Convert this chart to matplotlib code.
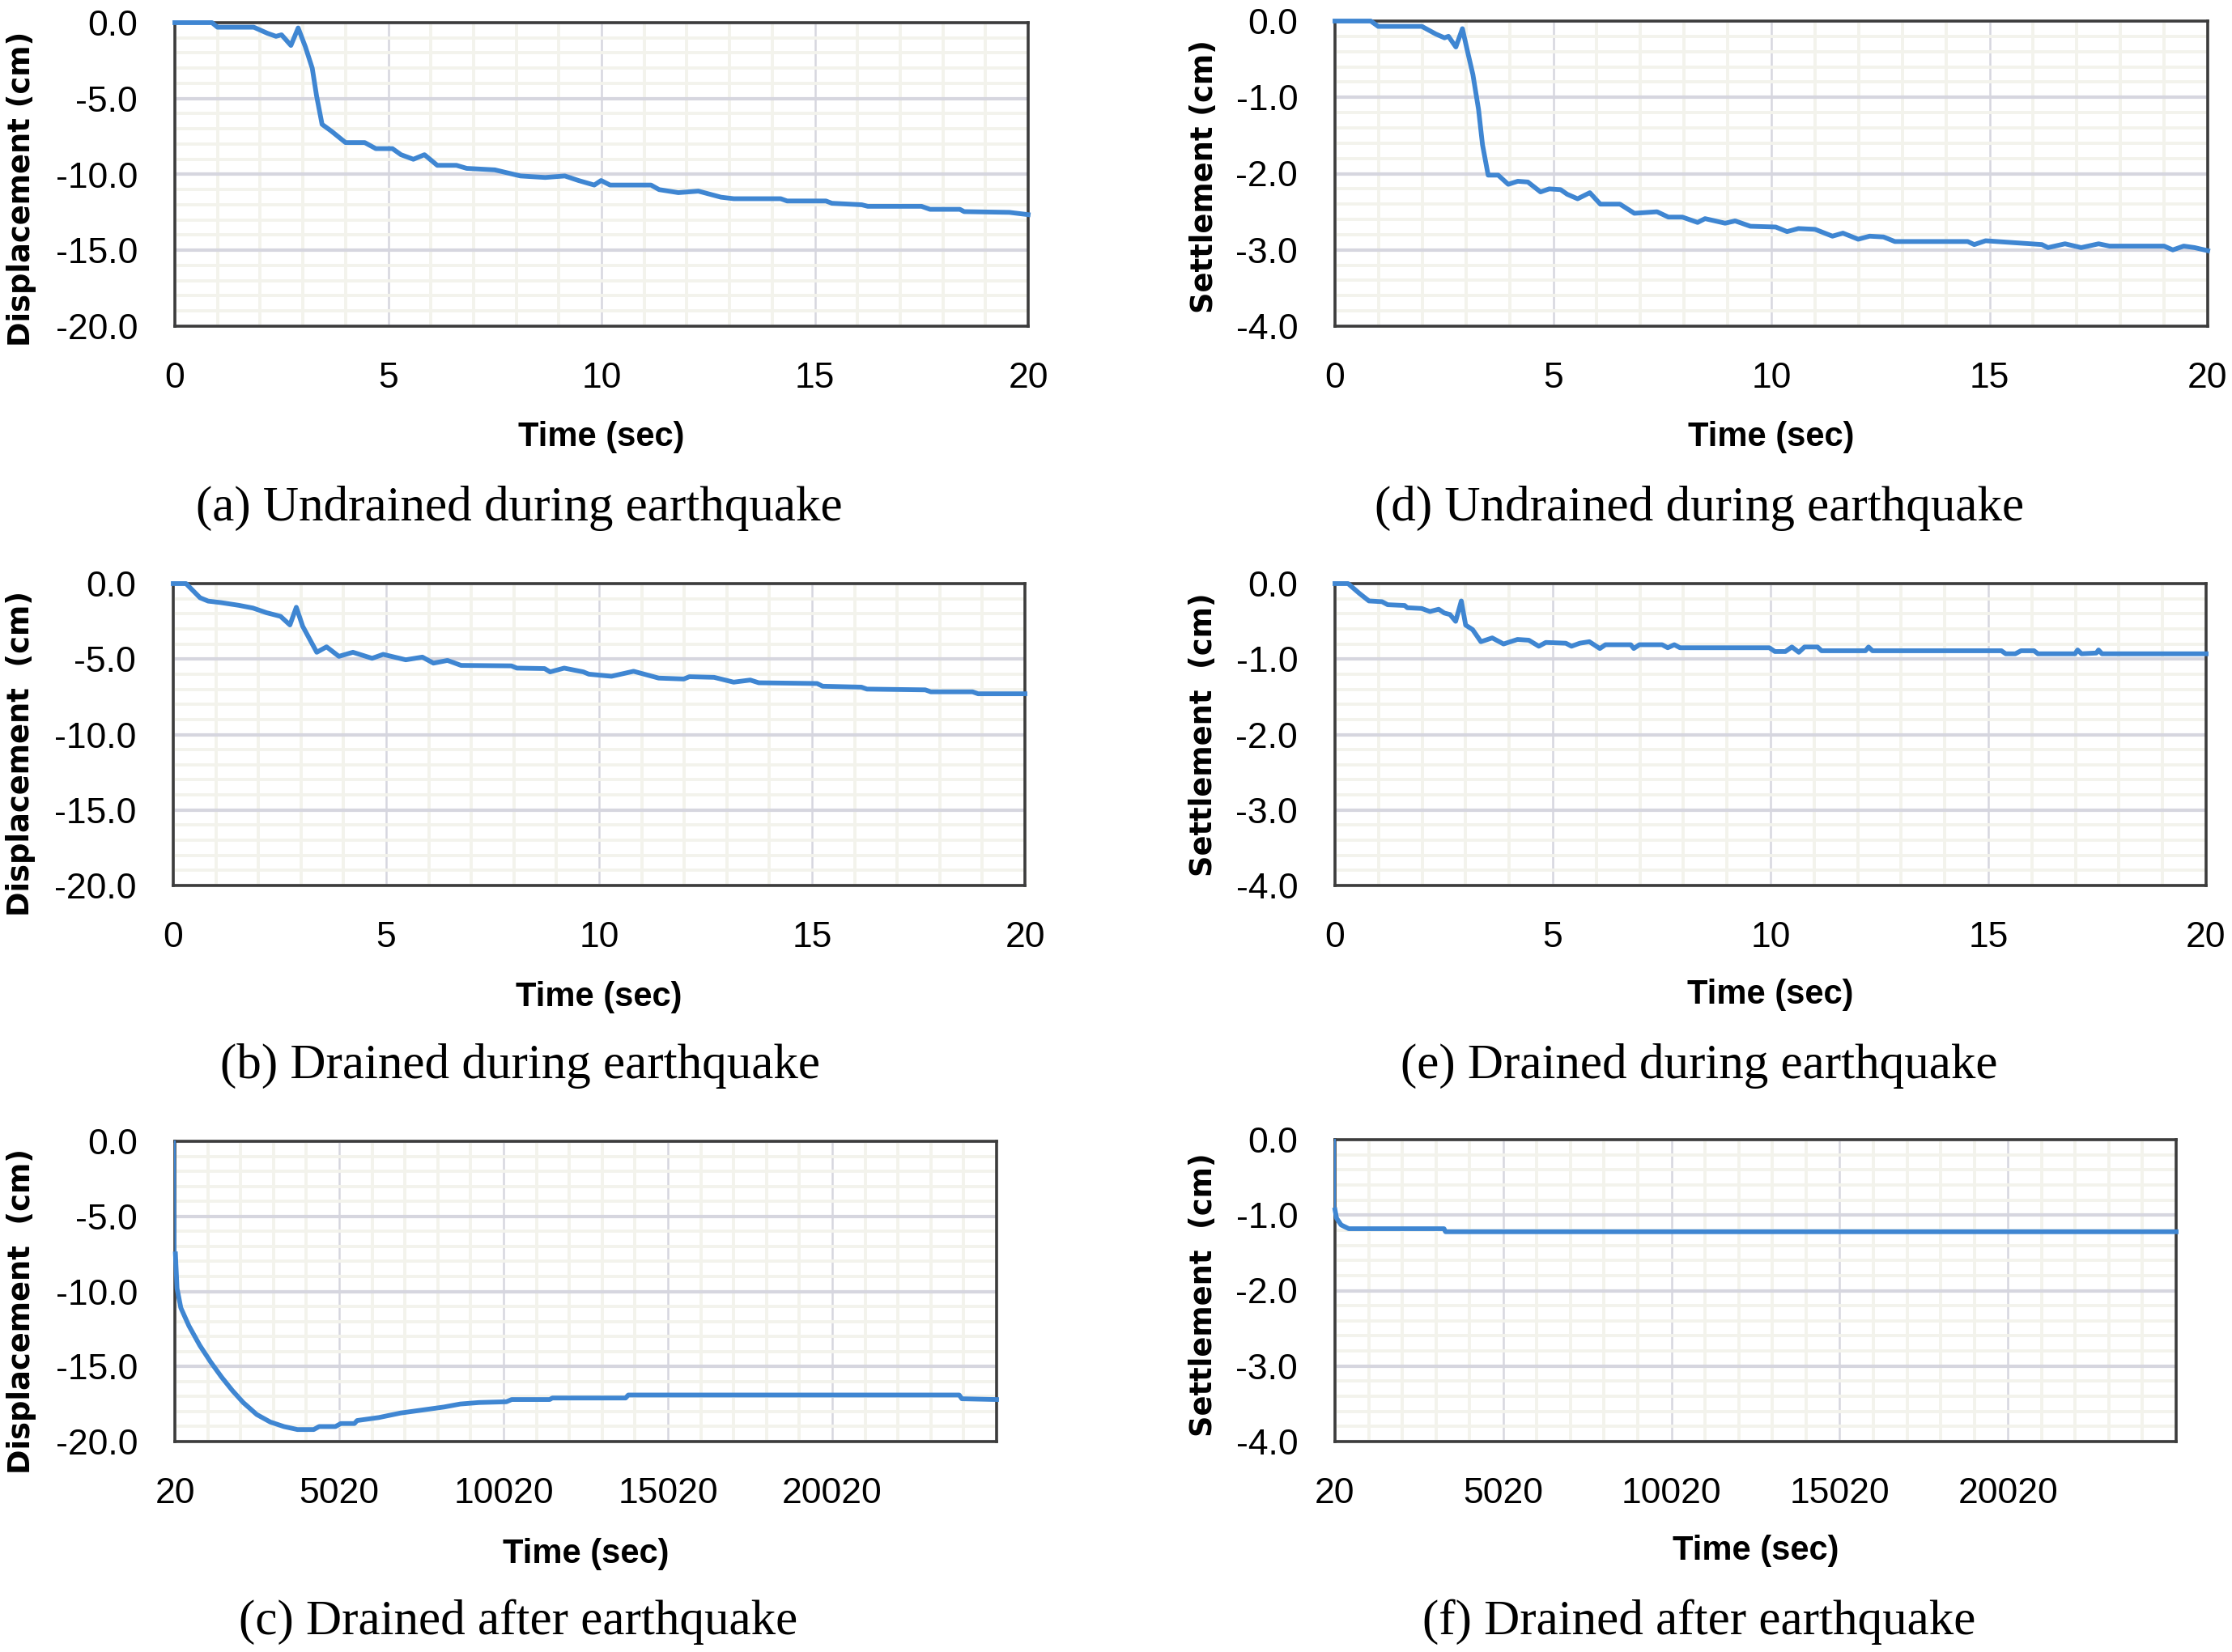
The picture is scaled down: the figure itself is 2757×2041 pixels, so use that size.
#!/usr/bin/env python3
"""Displacement / settlement time histories, six-panel figure."""

import matplotlib
matplotlib.use("Agg")
import matplotlib.pyplot as plt
import numpy as np
from matplotlib.ticker import FixedLocator, FormatStrFormatter, MultipleLocator

plt.rcParams["axes.unicode_minus"] = False

# (a) undrained during earthquake, displacement (cm)
t_a = [0, 0.87, 1.0, 1.85, 2.17, 2.37, 2.5, 2.72, 2.89, 3.06, 3.22, 3.32, 3.45, 3.67, 4.0,
       4.45, 4.71, 5.1, 5.3, 5.59, 5.85, 6.15, 6.6, 6.84, 7.5, 8.1, 8.68, 9.14, 9.46, 9.83,
       9.99, 10.2, 11.16, 11.35, 11.8, 12.27, 12.8, 13.1, 14.2, 14.35, 15.26, 15.4, 16.1,
       16.24, 17.5, 17.7, 18.4, 18.5, 19.56, 20.0]
d_a = [0, 0, -0.3, -0.3, -0.7, -0.9, -0.8, -1.5, -0.35, -1.6, -3.0, -4.8, -6.7, -7.15, -7.9,
       -7.9, -8.3, -8.3, -8.7, -9.0, -8.7, -9.4, -9.4, -9.6, -9.7, -10.1, -10.2, -10.1, -10.4,
       -10.7, -10.4, -10.7, -10.7, -11.0, -11.2, -11.1, -11.5, -11.6, -11.6, -11.75, -11.75,
       -11.9, -12.0, -12.1, -12.1, -12.3, -12.3, -12.45, -12.5, -12.65]

# (b) drained during earthquake, displacement (cm)
t_b = [0, 0.3, 0.63, 0.82, 1.12, 1.54, 1.87, 2.19, 2.52, 2.74, 2.89, 3.04, 3.37, 3.6, 3.89,
       4.22, 4.67, 4.93, 5.46, 5.85, 6.11, 6.44, 6.76, 7.94, 8.07, 8.72, 8.85, 9.18, 9.63,
       9.76, 10.29, 10.81, 11.4, 11.99, 12.12, 12.7, 13.16, 13.55, 13.75, 15.12, 15.25, 16.16,
       16.29, 17.66, 17.79, 18.77, 18.9, 20.0]
d_b = [0, 0, -0.94, -1.16, -1.26, -1.44, -1.62, -1.93, -2.17, -2.74, -1.57, -2.83, -4.55,
       -4.19, -4.82, -4.55, -4.95, -4.69, -5.05, -4.87, -5.27, -5.09, -5.42, -5.45, -5.6,
       -5.63, -5.85, -5.6, -5.85, -6.0, -6.14, -5.81, -6.26, -6.32, -6.17, -6.21, -6.53,
       -6.39, -6.57, -6.62, -6.8, -6.86, -6.99, -7.04, -7.17, -7.17, -7.3, -7.3]

# (c) drained after earthquake, displacement (cm)
t_c = [20, 37, 86, 202, 449, 779, 1109, 1439, 1769, 2099, 2512, 2924, 3337, 3750, 4245, 4410,
       4905, 5070, 5482, 5565, 6225, 6886, 7546, 8206, 8700, 9278, 10103, 10268, 11423,
       11505, 13733, 13816, 23882, 23964, 25020]
d_c = [0, -7.5, -9.8, -11.1, -12.3, -13.6, -14.7, -15.7, -16.6, -17.4, -18.2, -18.7, -19.0,
       -19.2, -19.2, -19.0, -19.0, -18.8, -18.8, -18.6, -18.4, -18.1, -17.9, -17.7, -17.5,
       -17.4, -17.35, -17.2, -17.2, -17.1, -17.1, -16.9, -16.9, -17.15, -17.2]

# (d) undrained during earthquake, settlement (cm)
t_d = [0, 0.82, 0.99, 1.99, 2.31, 2.51, 2.6, 2.77, 2.92, 3.03, 3.16, 3.29, 3.38, 3.51, 3.74,
       3.97, 4.19, 4.42, 4.71, 4.91, 5.17, 5.32, 5.56, 5.84, 6.08, 6.53, 6.86, 7.38, 7.64,
       7.96, 8.31, 8.48, 8.94, 9.17, 9.52, 10.1, 10.36, 10.62, 11.0, 11.4, 11.64, 11.99,
       12.25, 12.57, 12.83, 14.5, 14.65, 14.91, 16.2, 16.34, 16.73, 17.1, 17.5, 17.75, 19.0,
       19.2, 19.45, 19.7, 20.0]
d_d = [0, 0, -0.07, -0.07, -0.17, -0.22, -0.2, -0.34, -0.1, -0.38, -0.7, -1.16, -1.62,
       -2.02, -2.02, -2.14, -2.1, -2.11, -2.24, -2.2, -2.21, -2.27, -2.33, -2.25, -2.4, -2.4,
       -2.52, -2.5, -2.57, -2.57, -2.64, -2.59, -2.65, -2.62, -2.69, -2.7, -2.76, -2.72,
       -2.73, -2.82, -2.78, -2.86, -2.82, -2.83, -2.89, -2.89, -2.93, -2.88, -2.93, -2.97,
       -2.92, -2.97, -2.92, -2.95, -2.95, -3.0, -2.95, -2.97, -3.01]

# (e) drained during earthquake, settlement (cm)
t_e = [0, 0.3, 0.56, 0.78, 1.08, 1.21, 1.6, 1.66, 1.99, 2.18, 2.38, 2.51, 2.64, 2.77, 2.9,
       3.0, 3.16, 3.35, 3.61, 3.87, 4.19, 4.45, 4.68, 4.84, 5.3, 5.43, 5.62, 5.84, 6.08, 6.21,
       6.79, 6.86, 6.99, 7.51, 7.64, 7.79, 7.92, 9.97, 10.1, 10.34, 10.49, 10.65, 10.78,
       11.08, 11.17, 12.18, 12.25, 12.34, 15.3, 15.4, 15.62, 15.75, 16.05, 16.14, 16.99,
       17.05, 17.14, 17.48, 17.53, 17.61, 20.0]
d_e = [0, 0, -0.13, -0.23, -0.24, -0.28, -0.29, -0.32, -0.33, -0.37, -0.34, -0.39, -0.41,
       -0.5, -0.23, -0.55, -0.61, -0.77, -0.72, -0.8, -0.74, -0.75, -0.83, -0.78, -0.79,
       -0.83, -0.79, -0.77, -0.86, -0.81, -0.81, -0.86, -0.81, -0.81, -0.85, -0.81, -0.85,
       -0.85, -0.9, -0.9, -0.84, -0.91, -0.84, -0.84, -0.89, -0.89, -0.84, -0.89, -0.89,
       -0.93, -0.93, -0.89, -0.89, -0.93, -0.93, -0.88, -0.93, -0.92, -0.88, -0.93, -0.93]

# (f) drained after earthquake, settlement (cm)
t_f = [20, 21, 66, 202, 430, 3260, 3305, 25020]
d_f = [0, -0.93, -1.04, -1.13, -1.18, -1.18, -1.22, -1.22]

captions = ["(a) Undrained during earthquake", "(b) Drained during earthquake",
            "(c) Drained after earthquake", "(d) Undrained during earthquake",
            "(e) Drained during earthquake", "(f) Drained after earthquake"]
ylabels = ["Displacement (cm)", "Displacement  (cm)", "Displacement  (cm)",
           "Settlement (cm)", "Settlement  (cm)", "Settlement  (cm)"]
long_ticks = [20, 5020, 10020, 15020, 20020]

W, H = 2757, 2041
LINE = "#3f86d2"
MAJOR = "#d6d6df"
MINOR = "#f3f3ec"
SPINE = "#3c3c3c"


def px_rect(left, right, top, bottom):
    return [left / W, 1 - bottom / H, (right - left) / W, (bottom - top) / H]


panels = [
    dict(t=t_a, d=d_a, rect=px_rect(216, 1270, 28, 403), kind="disp", long=False,
         ylab=(-0.180, 0.451), xlab=-0.365, cap=(641, 628)),
    dict(t=t_b, d=d_b, rect=px_rect(214, 1266, 721, 1094), kind="disp", long=False,
         ylab=(-0.179, 0.437), xlab=-0.370, cap=(643, 1317)),
    dict(t=t_c, d=d_c, rect=px_rect(216, 1231, 1410, 1781), kind="disp", long=True,
         ylab=(-0.187, 0.434), xlab=-0.375, cap=(640, 2004)),
    dict(t=t_d, d=d_d, rect=px_rect(1649, 2727, 26, 403), kind="set", long=False,
         ylab=(-0.150, 0.491), xlab=-0.363, cap=(2099, 628)),
    dict(t=t_e, d=d_e, rect=px_rect(1649, 2725, 721, 1094), kind="set", long=False,
         ylab=(-0.151, 0.499), xlab=-0.362, cap=(2099, 1317)),
    dict(t=t_f, d=d_f, rect=px_rect(1649, 2688, 1408, 1781), kind="set", long=True,
         ylab=(-0.156, 0.485), xlab=-0.362, cap=(2099, 2004)),
]

fig = plt.figure(figsize=(W / 100, H / 100), dpi=100)

for p, cap, ylab in zip(panels, captions, ylabels):
    ax = fig.add_axes(p["rect"])
    ax.set_axisbelow(True)

    if p["long"]:
        ax.set_xlim(20, 25020)
        ax.xaxis.set_major_locator(FixedLocator(long_ticks))
        ax.xaxis.set_minor_locator(FixedLocator([v for v in range(1020, 25020, 1000)
                                                 if (v - 20) % 5000]))
        # first near-vertical drop is drawn thin, like the source chart
        ax.plot(p["t"][:2], p["d"][:2], color=LINE, lw=1.6, zorder=3, clip_on=False)
        ax.plot(p["t"][1:], p["d"][1:], color=LINE, lw=4.2, zorder=3, clip_on=False)
    else:
        ax.set_xlim(0, 20)
        ax.xaxis.set_major_locator(MultipleLocator(5))
        ax.xaxis.set_minor_locator(MultipleLocator(1))
        ax.plot(p["t"], p["d"], color=LINE, lw=4.2, zorder=3, clip_on=False)

    if p["kind"] == "disp":
        ax.set_ylim(-20, 0)
        ax.yaxis.set_major_locator(MultipleLocator(5))
        ax.yaxis.set_minor_locator(MultipleLocator(1))
    else:
        ax.set_ylim(-4, 0)
        ax.yaxis.set_major_locator(MultipleLocator(1))
        ax.yaxis.set_minor_locator(MultipleLocator(0.2))
    ax.yaxis.set_major_formatter(FormatStrFormatter("%.1f"))

    ax.grid(which="minor", color=MINOR, lw=2.8)
    ax.grid(which="major", axis="y", color=MAJOR, lw=3.0)
    ax.grid(which="major", axis="x", color=MAJOR, lw=1.8)
    if p["long"]:
        ax.axvline(25020, color=MAJOR, lw=1.8, zorder=0.5)

    for s in ax.spines.values():
        s.set_color(SPINE)
        s.set_linewidth(2.6)

    ax.tick_params(which="both", length=0)
    ax.tick_params(axis="x", labelsize=32, pad=32)
    ax.tick_params(axis="y", labelsize=32, pad=33)
    for lab in ax.get_xticklabels() + ax.get_yticklabels():
        lab.set_fontfamily("Liberation Sans")

    ax.set_ylabel(ylab, fontsize=26.5, fontweight="bold", family="DejaVu Sans", va="center")
    ax.yaxis.set_label_coords(*p["ylab"])
    ax.set_xlabel("Time (sec)", fontsize=30, fontweight="bold", family="Liberation Sans",
                  va="center")
    ax.xaxis.set_label_coords(0.5, p["xlab"])

    cx, cy = p["cap"]
    fig.text(cx / W, 1 - cy / H, cap, fontsize=44, family="Liberation Serif",
             ha="center", va="center")

fig.savefig("out.png", dpi=100)
